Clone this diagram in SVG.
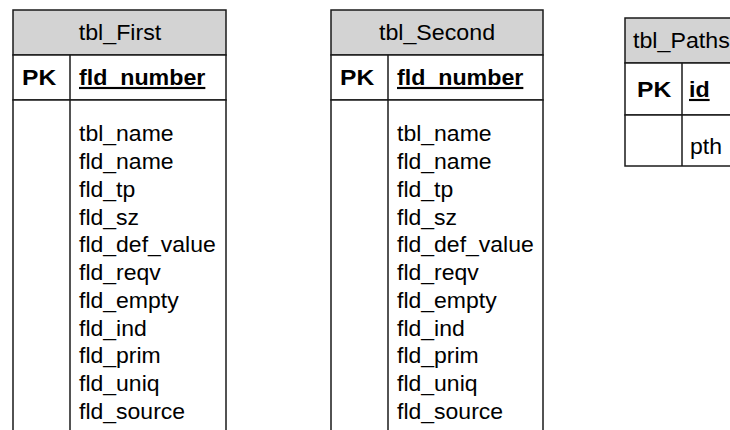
<svg xmlns="http://www.w3.org/2000/svg" width="730" height="430" viewBox="0 0 730 430">
<style>
  .box { fill: #ffffff; stroke: #1a1a1a; stroke-width: 1.5; }
  .hdr { fill: #d3d3d3; stroke: #1a1a1a; stroke-width: 1.5; }
  .ln { stroke: #1a1a1a; stroke-width: 1.5; fill: none; }
  text { font-family: "Liberation Sans", Arial, sans-serif; fill: #000000; }
  .t { font-size: 21.5px; }
  .title { font-size: 21.5px; text-anchor: middle; }
  .pk { font-size: 22px; font-weight: bold; }
  .key { font-size: 21.5px; font-weight: bold; text-decoration: underline; }
</style>

<g id="tbl_First">
  <rect class="hdr" x="13" y="10" width="213" height="45"/>
  <rect class="box" x="13" y="55" width="213" height="45"/>
  <rect class="box" x="13" y="100" width="213" height="345"/>
  <line class="ln" x1="70" y1="55" x2="70" y2="440"/>
  <text class="title" transform="translate(120 40) scale(1.08 1)" x="0" y="0">tbl_First</text>
  <text class="pk" transform="translate(22 85) scale(1.12 1)" x="0" y="0">PK</text>
  <text class="key" transform="translate(79 85) scale(1.08 1)" x="0" y="0">fld_number</text>
  <text class="t" transform="translate(79 0) scale(1.07 1)">
    <tspan x="0" y="141.5">tbl_name</tspan>
    <tspan x="0" y="169.25">fld_name</tspan>
    <tspan x="0" y="197">fld_tp</tspan>
    <tspan x="0" y="224.75">fld_sz</tspan>
    <tspan x="0" y="252.5">fld_def_value</tspan>
    <tspan x="0" y="280.25">fld_reqv</tspan>
    <tspan x="0" y="308">fld_empty</tspan>
    <tspan x="0" y="335.75">fld_ind</tspan>
    <tspan x="0" y="363.5">fld_prim</tspan>
    <tspan x="0" y="391.25">fld_uniq</tspan>
    <tspan x="0" y="419">fld_source</tspan>
  </text>
</g>

<g id="tbl_Second">
  <rect class="hdr" x="331" y="10" width="212" height="45"/>
  <rect class="box" x="331" y="55" width="212" height="45"/>
  <rect class="box" x="331" y="100" width="212" height="345"/>
  <line class="ln" x1="388" y1="55" x2="388" y2="440"/>
  <text class="title" transform="translate(437 40) scale(1.08 1)" x="0" y="0">tbl_Second</text>
  <text class="pk" transform="translate(340 85) scale(1.12 1)" x="0" y="0">PK</text>
  <text class="key" transform="translate(397 85) scale(1.08 1)" x="0" y="0">fld_number</text>
  <text class="t" transform="translate(397 0) scale(1.07 1)">
    <tspan x="0" y="141.5">tbl_name</tspan>
    <tspan x="0" y="169.25">fld_name</tspan>
    <tspan x="0" y="197">fld_tp</tspan>
    <tspan x="0" y="224.75">fld_sz</tspan>
    <tspan x="0" y="252.5">fld_def_value</tspan>
    <tspan x="0" y="280.25">fld_reqv</tspan>
    <tspan x="0" y="308">fld_empty</tspan>
    <tspan x="0" y="335.75">fld_ind</tspan>
    <tspan x="0" y="363.5">fld_prim</tspan>
    <tspan x="0" y="391.25">fld_uniq</tspan>
    <tspan x="0" y="419">fld_source</tspan>
  </text>
</g>

<g id="tbl_Paths">
  <rect class="hdr" x="625" y="18" width="140" height="45"/>
  <rect class="box" x="625" y="63" width="140" height="52"/>
  <rect class="box" x="625" y="115" width="140" height="51"/>
  <line class="ln" x1="682" y1="63" x2="682" y2="166"/>
  <text class="t" transform="translate(633 48) scale(1.08 1)" x="0" y="0">tbl_Paths</text>
  <text class="pk" transform="translate(637 97) scale(1.12 1)" x="0" y="0">PK</text>
  <text class="key" transform="translate(689 97) scale(1.08 1)" x="0" y="0">id</text>
  <text class="t" transform="translate(690 154) scale(1.07 1)" x="0" y="0">pth</text>
</g>

<g id="connectors"></g>
</svg>
